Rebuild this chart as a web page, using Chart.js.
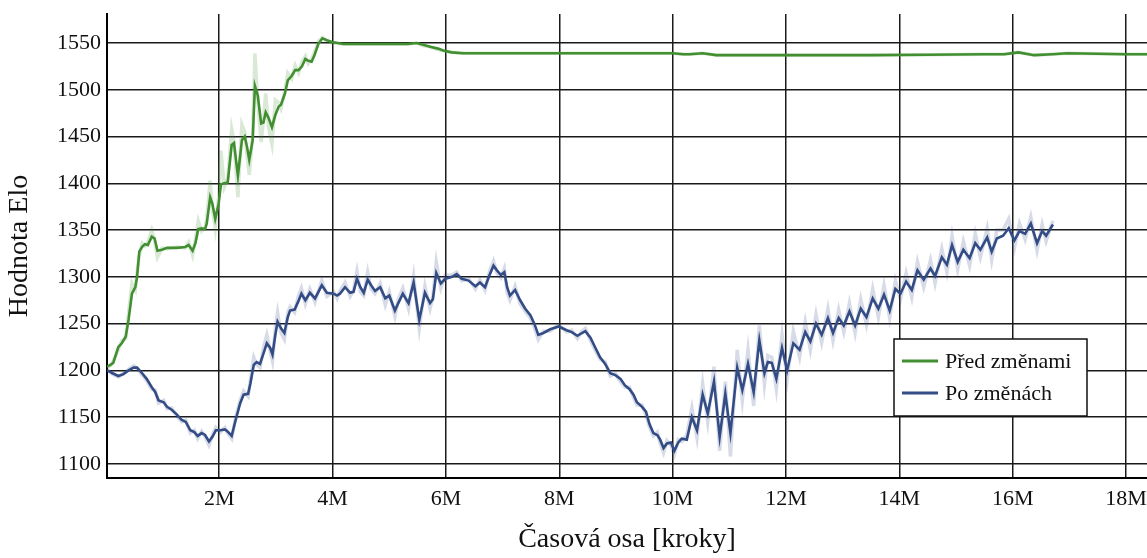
<!DOCTYPE html>
<html lang="cs">
<head>
<meta charset="UTF-8">
<title>Hodnota Elo</title>
<script src="https://cdn.jsdelivr.net/npm/chart.js"></script>
<style>
    html, body { margin: 0; padding: 0; background: #fff; }
    .chartBox { width: 1147px; height: 558px; }
</style>
</head>
<body>
<div class="chartBox"><canvas id="eloChart"></canvas></div>
<script>
// steps are in millions
var seriesLabels = ['Před změnami', 'Po změnách'];

var beforeSteps = [
    0.02,0.08,0.13,0.22,0.28,0.35,0.40,0.46,0.52,0.55,
    0.59,0.64,0.69,0.74,0.81,0.86,0.91,0.99,1.08,1.25,
    1.40,1.46,1.53,1.58,1.63,1.69,1.75,1.78,1.84,1.88,
    1.93,1.99,2.03,2.09,2.15,2.22,2.26,2.33,2.40,2.45,
    2.49,2.53,2.59,2.63,2.68,2.74,2.78,2.82,2.87,2.93,
    2.99,3.05,3.09,3.16,3.21,3.28,3.34,3.40,3.46,3.52,
    3.57,3.63,3.68,3.75,3.82,3.90,3.99,4.19,4.60,5.00,
    5.33,5.48,5.60,5.72,5.86,5.95,6.10,6.30,7.00,8.00,
    9.00,10.00,10.19,10.30,10.53,10.77,11.50,12.50,13.50,14.50,
    15.50,15.85,16.10,16.38,16.70,16.96,17.50,18.00,18.50
];
// smoothed
var beforeElo = [
    1204,1206,1208,1225,1229,1236,1254,1282,1289,1300,
    1327,1332,1335,1334,1343,1341,1328,1329,1331,1331,
    1332,1334,1328,1336,1351,1352,1351,1357,1385,1378,
    1362,1378,1399,1400,1401,1441,1443,1408,1446,1450,
    1439,1425,1446,1504,1494,1464,1465,1476,1470,1460,
    1473,1482,1484,1496,1510,1515,1521,1521,1525,1533,
    1531,1530,1537,1549,1555,1553,1551,1549,1549,1549,
    1549,1550,1548,1546,1544,1542,1540,1539,1539,1539,
    1539,1539,1538,1538,1539,1537,1537,1537,1537,1537.5,
    1538,1538,1540,1537,1538,1539,1538.5,1538,1538
];
// raw (faint)
var beforeEloRaw = [
    1203,1205,1210,1222,1232,1234,1262,1293,1286,1305,
    1323,1336,1333,1337,1350,1339,1321,1331,1330,1332,
    1331,1337,1323,1340,1360,1349,1353,1362,1403,1372,
    1352,1386,1435,1396,1405,1458,1445,1385,1463,1455,
    1430,1409,1452,1539,1488,1444,1468,1496,1460,1442,
    1489,1486,1480,1500,1518,1512,1526,1518,1530,1536,
    1528,1533,1540,1552,1556,1552,1550,1549,1549,1549,
    1549,1550,1547,1546,1543,1542,1540,1539,1539,1539,
    1539,1539,1538,1538,1539,1537,1537,1537,1537,1537.5,
    1538,1538,1540,1537,1538,1539,1538.5,1538,1538
];

var afterSteps = [
    0.02,0.12,0.22,0.31,0.40,0.49,0.55,0.64,0.72,0.81,
    0.87,0.93,1.02,1.08,1.16,1.25,1.34,1.41,1.49,1.56,
    1.62,1.69,1.75,1.82,1.88,1.94,2.02,2.10,2.16,2.22,
    2.29,2.37,2.43,2.51,2.55,2.61,2.66,2.72,2.78,2.84,
    2.90,2.94,2.99,3.03,3.09,3.15,3.21,3.25,3.33,3.39,
    3.45,3.52,3.60,3.69,3.81,3.90,4.02,4.08,4.13,4.22,
    4.31,4.37,4.43,4.49,4.55,4.62,4.68,4.75,4.84,4.93,
    5.00,5.10,5.16,5.24,5.34,5.43,5.53,5.63,5.72,5.77,
    5.83,5.91,5.99,6.11,6.19,6.28,6.40,6.52,6.60,6.69,
    6.77,6.84,6.90,6.97,7.03,7.08,7.13,7.22,7.31,7.40,
    7.49,7.56,7.63,7.72,7.84,7.99,8.13,8.22,8.32,8.40,
    8.46,8.55,8.63,8.72,8.81,8.90,8.99,9.08,9.16,9.24,
    9.31,9.37,9.46,9.53,9.59,9.66,9.73,9.78,9.84,9.90,
    9.97,10.03,10.10,10.16,10.25,10.34,10.43,10.53,10.62,10.73,
    10.83,10.93,11.02,11.14,11.23,11.33,11.43,11.53,11.62,11.68,
    11.75,11.83,11.93,12.02,12.13,12.24,12.34,12.43,12.53,12.63,
    12.74,12.83,12.93,13.02,13.12,13.22,13.32,13.42,13.53,13.63,
    13.73,13.83,13.93,14.02,14.12,14.22,14.32,14.43,14.55,14.63,
    14.75,14.84,14.93,15.03,15.13,15.24,15.34,15.43,15.55,15.63,
    15.72,15.83,15.93,16.03,16.12,16.22,16.32,16.43,16.52,16.59,
    16.71
];
var afterElo = [
    1200,1197,1194,1196,1200,1203,1203,1197,1191,1182,
    1177,1168,1166,1161,1158,1153,1147,1145,1136,1134,
    1130,1133,1131,1124,1129,1136,1136,1137,1134,1130,
    1147,1165,1174,1175,1186,1206,1209,1207,1218,1229,
    1224,1217,1238,1252,1245,1240,1257,1264,1265,1273,
    1282,1275,1283,1277,1291,1283,1282,1280,1282,1289,
    1283,1284,1298,1289,1283,1297,1291,1285,1289,1277,
    1280,1264,1272,1282,1272,1294,1254,1283,1272,1276,
    1304,1293,1298,1300,1303,1298,1296,1290,1294,1289,
    1302,1312,1307,1302,1305,1289,1280,1286,1275,1266,
    1259,1250,1238,1240,1244,1247,1243,1241,1237,1240,
    1242,1235,1225,1214,1207,1197,1195,1191,1184,1180,
    1174,1166,1161,1156,1143,1133,1131,1126,1117,1122,
    1123,1114,1123,1127,1126,1150,1136,1174,1154,1188,
    1129,1175,1133,1203,1179,1207,1177,1232,1197,1209,
    1208,1191,1224,1200,1229,1222,1241,1231,1250,1238,
    1256,1240,1256,1248,1263,1248,1266,1257,1277,1266,
    1281,1264,1287,1282,1295,1286,1307,1297,1309,1301,
    1321,1313,1334,1316,1329,1320,1336,1329,1342,1327,
    1341,1344,1352,1339,1349,1346,1357,1336,1349,1344,
    1356
];
var afterEloRaw = [
    1201,1196,1193,1197,1201,1205,1202,1195,1189,1180,
    1179,1165,1168,1159,1160,1151,1145,1147,1133,1136,
    1127,1135,1129,1120,1131,1139,1134,1139,1132,1127,
    1150,1168,1178,1172,1190,1214,1206,1203,1224,1238,
    1220,1210,1245,1262,1240,1233,1262,1268,1262,1278,
    1288,1271,1287,1273,1296,1279,1284,1277,1285,1294,
    1279,1286,1306,1284,1280,1305,1287,1282,1293,1270,
    1284,1258,1276,1288,1266,1301,1245,1290,1266,1279,
    1316,1288,1302,1302,1305,1296,1298,1287,1297,1286,
    1306,1317,1304,1299,1309,1283,1275,1290,1271,1263,
    1256,1246,1233,1242,1242,1249,1241,1243,1234,1242,
    1245,1232,1222,1212,1209,1194,1197,1188,1182,1182,
    1171,1163,1163,1152,1140,1130,1134,1122,1112,1125,
    1120,1110,1126,1124,1131,1160,1128,1186,1145,1204,
    1114,1188,1108,1222,1168,1222,1162,1248,1185,1216,
    1214,1180,1238,1190,1242,1214,1252,1222,1260,1230,
    1266,1232,1265,1241,1272,1240,1276,1249,1287,1257,
    1291,1256,1296,1276,1304,1278,1316,1289,1318,1293,
    1330,1305,1344,1308,1338,1312,1346,1321,1352,1318,
    1350,1350,1362,1331,1357,1340,1364,1328,1356,1338,
    1360
];

var xTickValues = [2, 4, 6, 8, 10, 12, 14, 16, 18];
var yTickValues = [1100, 1150, 1200, 1250, 1300, 1350, 1400, 1450, 1500, 1550];

var greenLine = '#428f31';
var blueLine = '#344d85';
var serif = "'Liberation Serif', 'DejaVu Serif', serif";

function points(xs, ys) {
    return xs.map(function (x, i) { return { x: x, y: ys[i] }; });
}

// legend drawn as a framed box inside the plot, like the original
var boxLegend = {
    id: 'boxLegend',
    afterDraw: function (chart, args, opts) {
        var ctx = chart.ctx;
        ctx.save();
        ctx.fillStyle = '#fff';
        ctx.fillRect(opts.x, opts.y, opts.w, opts.h);
        ctx.strokeStyle = '#111';
        ctx.lineWidth = 1.5;
        ctx.strokeRect(opts.x, opts.y, opts.w, opts.h);
        ctx.font = '22px ' + serif;
        ctx.textBaseline = 'middle';
        var items = chart.data.datasets.filter(function (d) { return d.inLegend; });
        items.forEach(function (d, i) {
            var y = opts.y + opts.first + i * opts.gap;
            ctx.strokeStyle = d.borderColor;
            ctx.lineWidth = 2.8;
            ctx.beginPath();
            ctx.moveTo(opts.x + 8, y);
            ctx.lineTo(opts.x + 44, y);
            ctx.stroke();
            ctx.fillStyle = '#111';
            ctx.fillText(d.label, opts.x + 51, y + 1);
        });
        ctx.restore();
    }
};

var ctx = document.getElementById('eloChart').getContext('2d');
var eloChart = new Chart(ctx, {
    type: 'line',
    data: {
        datasets: [
            {
                label: seriesLabels[0] + ' raw',
                data: points(beforeSteps, beforeEloRaw),
                borderColor: 'rgba(66, 143, 49, 0.2)',
                borderWidth: 3.5
            },
            {
                label: seriesLabels[1] + ' raw',
                data: points(afterSteps, afterEloRaw),
                borderColor: 'rgba(52, 77, 133, 0.2)',
                borderWidth: 3.5
            },
            {
                label: seriesLabels[0],
                data: points(beforeSteps, beforeElo),
                borderColor: greenLine,
                borderWidth: 2.6,
                inLegend: true
            },
            {
                label: seriesLabels[1],
                data: points(afterSteps, afterElo),
                borderColor: blueLine,
                borderWidth: 2.6,
                inLegend: true
            }
        ]
    },
    options: {
        responsive: true,
        maintainAspectRatio: false,
        animation: false,
        layout: { padding: { top: 14, right: 0, left: 0, bottom: 0 } },
        elements: {
            point: { radius: 0 },
            line: { tension: 0, fill: false }
        },
        plugins: {
            legend: { display: false },
            tooltip: { enabled: false },
            boxLegend: { x: 894, y: 339, w: 193, h: 77, first: 22, gap: 32 }
        },
        scales: {
            x: {
                type: 'linear',
                min: 0.02,
                max: 18.37,
                afterFit: function (scale) {
                    scale.height = 80;
                    scale.paddingLeft = 0;
                    scale.paddingRight = 0;
                },
                afterBuildTicks: function (scale) {
                    scale.ticks = xTickValues.map(function (v) { return { value: v }; });
                },
                ticks: {
                    padding: 8,
                    color: '#111',
                    font: { family: serif, size: 22 },
                    callback: function (v) { return v + 'M'; }
                },
                grid: { color: '#1a1a1a', lineWidth: 1.5, drawTicks: false },
                border: { display: true, color: '#000', width: 2 },
                title: {
                    display: true,
                    text: 'Časová osa [kroky]',
                    color: '#111',
                    font: { family: serif, size: 28 },
                    padding: { top: 0, bottom: 2 }
                }
            },
            y: {
                type: 'linear',
                min: 1085,
                max: 1581,
                afterFit: function (scale) {
                    scale.width = 107;
                    scale.paddingTop = 0;
                    scale.paddingBottom = 0;
                },
                afterBuildTicks: function (scale) {
                    scale.ticks = yTickValues.map(function (v) { return { value: v }; });
                },
                ticks: {
                    padding: 6,
                    color: '#111',
                    font: { family: serif, size: 22 },
                    callback: function (v) { return String(v); }
                },
                grid: { color: '#1a1a1a', lineWidth: 1.5, drawTicks: false },
                border: { display: true, color: '#000', width: 2 },
                title: {
                    display: true,
                    text: 'Hodnota Elo',
                    color: '#111',
                    font: { family: serif, size: 28 },
                    padding: { top: 3, bottom: 0 }
                }
            }
        }
    },
    plugins: [boxLegend]
});
</script>
</body>
</html>
